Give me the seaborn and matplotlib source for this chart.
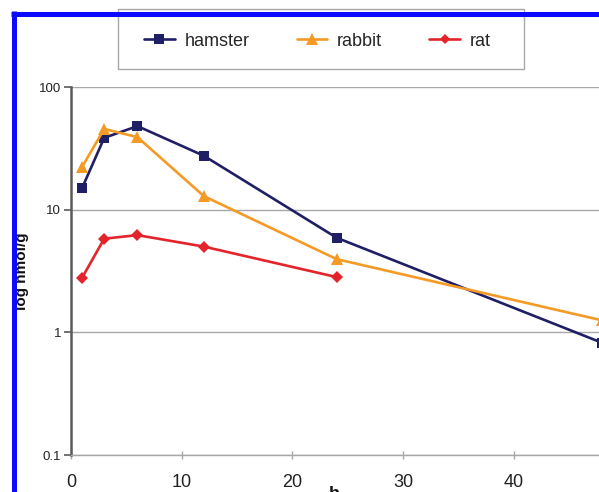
import matplotlib
matplotlib.use("Agg")
import matplotlib.pyplot as plt
from matplotlib.lines import Line2D
from matplotlib.patches import Rectangle
from matplotlib.ticker import FixedLocator, FixedFormatter, NullLocator
import numpy as np
import pandas as pd
import seaborn as sns

# Tissue concentration (nmol/g) over time (h) for three species
hours = [1, 3, 6, 12, 24, 48]
hamster = [15.0, 38.5, 48.0, 27.5, 5.9, 0.82]
rabbit = [22.3, 45.5, 39.0, 12.9, 3.95, 1.25]
rat_hours = [1, 3, 6, 12, 24]
rat = [2.78, 5.8, 6.2, 5.0, 2.82]

species = ["hamster", "rabbit", "rat"]
y_ticks = [0.1, 1, 10, 100]
y_tick_labels = ["0.1", "1", "10", "100"]
x_ticks = [0, 10, 20, 30, 40]

colors = {"hamster": "#1f1f66", "rabbit": "#f59a25", "rat": "#e3242b"}
markers = {"hamster": "s", "rabbit": "^", "rat": "D"}
msizes = {"hamster": 7.8, "rabbit": 9.0, "rat": 6.0}

df = pd.concat([
    pd.DataFrame({"h": hours, "value": hamster, "species": "hamster"}),
    pd.DataFrame({"h": hours, "value": rabbit, "species": "rabbit"}),
    pd.DataFrame({"h": rat_hours, "value": rat, "species": "rat"}),
], ignore_index=True)

sns.set_theme(style="white")
plt.rcParams["font.family"] = ["Liberation Sans", "DejaVu Sans"]

W, H = 599, 492
fig = plt.figure(figsize=(W / 100, H / 100), dpi=100)
ax = fig.add_axes([71 / W, 1 - 455 / H, 553.5 / W, 368 / H])

sns.lineplot(data=df, x="h", y="value", hue="species", style="species",
             hue_order=species, style_order=species, palette=colors,
             markers=markers, dashes=False, linewidth=1.9,
             markeredgewidth=0, errorbar=None, legend=False, ax=ax)

# per-series marker sizes
for line in ax.get_lines():
    c = matplotlib.colors.to_hex(line.get_color())
    for sp, col in colors.items():
        if c == col:
            line.set_markersize(msizes[sp])

ax.set_yscale("log")
ax.set_ylim(0.1, 100)
ax.set_xlim(0, 50)

ax.yaxis.set_major_locator(FixedLocator(y_ticks))
ax.yaxis.set_major_formatter(FixedFormatter(y_tick_labels))
ax.yaxis.set_minor_locator(NullLocator())
ax.set_xticks(x_ticks)
ax.set_xticklabels([str(t) for t in x_ticks])

ax.yaxis.grid(True, which="major", color="#a8a8a8", linewidth=1.0)
ax.xaxis.grid(False)
ax.set_axisbelow(True)

for s in ("top", "right"):
    ax.spines[s].set_visible(False)
ax.spines["left"].set_color("#5a5a5a")
ax.spines["left"].set_linewidth(1.8)
ax.spines["bottom"].set_color("#a8a8a8")
ax.spines["bottom"].set_linewidth(1.0)

ax.tick_params(axis="y", which="major", length=5, width=1.2, color="#5a5a5a",
               direction="out", labelsize=9.5, pad=2, labelcolor="#222222", left=True)
ax.tick_params(axis="x", which="major", length=6, width=1.0, color="#a8a8a8",
               direction="inout", labelsize=13, pad=11, labelcolor="#222222", bottom=True)

ax.set_ylabel("log nmol/g", fontsize=11, fontweight="bold", color="#111111")
ax.yaxis.set_label_coords(-0.076, 0.5)
ax.set_xlabel("h", fontsize=13, fontweight="bold", color="#111111")
ax.xaxis.set_label_coords(0.475, -0.085)

# legend box across the top
fig.add_artist(Rectangle((118 / W, 1 - 69 / H), (524 - 118) / W, 60 / H,
                         transform=fig.transFigure, facecolor="white",
                         edgecolor="#a8a8a8", linewidth=1.0, zorder=4))
handles = [Line2D([], [], color=colors[sp], marker=markers[sp],
                  markersize=msizes[sp] * 0.9, markeredgewidth=0, linewidth=1.9)
           for sp in species]
fig.legend(handles, species, loc="center", bbox_to_anchor=(317.5 / W, 1 - 41 / H),
           ncol=3, frameon=False, fontsize=13, handlelength=1.7,
           handletextpad=0.55, columnspacing=2.6, borderpad=0)

# blue frame along the top and left edges
fig.add_artist(Line2D([11 / W, 1], [1 - 13.5 / H] * 2, transform=fig.transFigure,
                      color="#0a0aff", linewidth=3.6, solid_capstyle="butt", zorder=10))
fig.add_artist(Line2D([13.5 / W] * 2, [0, 1 - 11 / H], transform=fig.transFigure,
                      color="#0a0aff", linewidth=3.6, solid_capstyle="butt", zorder=10))

fig.savefig("out.png", dpi=100)
